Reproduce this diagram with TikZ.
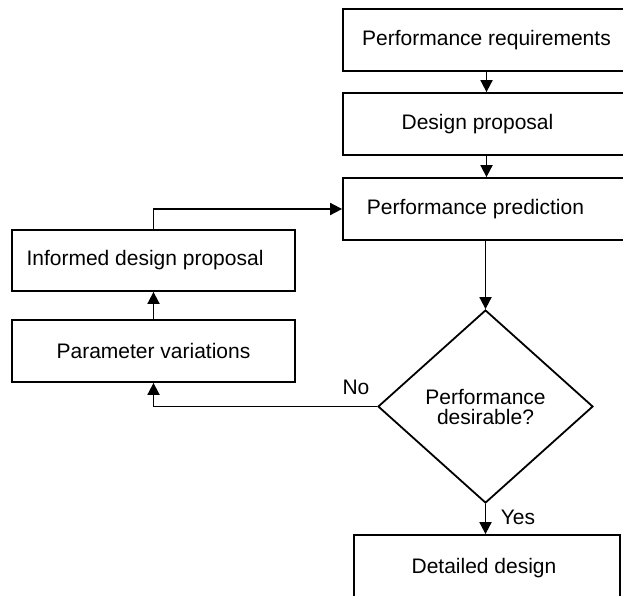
\documentclass[tikz,border=0pt]{standalone}
\usepackage{fontspec}
\setmainfont{Liberation Sans}
\usetikzlibrary{shapes.geometric,arrows.meta}
\begin{document}
\begin{tikzpicture}[x=1pt,y=-1pt,
  every node/.style={font=\fontsize{21}{22}\selectfont},
  box/.style={draw, line width=1.8pt, rectangle, inner sep=0pt},
  decide/.style={draw, line width=1.8pt, diamond, inner sep=0pt, align=center},
  conn/.style={line width=1.8pt, -{Triangle[length=12pt,width=12pt]}},
  lbl/.style={inner sep=0pt}]
\useasboundingbox (0,0) rectangle (623,595);
\clip (0,0) rectangle (623,595);
\node[box, minimum width=287pt, minimum height=62pt] (b1) at (486.5,40) {Performance requirements};
\node[box, minimum width=287pt, minimum height=62pt] (b2) at (486.5,124) {\hspace*{-18pt}Design proposal};
\node[box, minimum width=287pt, minimum height=62pt] (b3) at (486.5,209) {\hspace*{-22pt}Performance prediction};
\node[box, minimum width=283pt, minimum height=61pt] (inf) at (153.5,260.5) {\hspace*{-17pt}Informed design proposal};
\node[box, minimum width=283pt, minimum height=62pt] (par) at (153.5,351) {Parameter variations};
\node[decide, minimum width=215pt, minimum height=193pt] (d) at (485.5,406.5) {Performance\\[-2pt]desirable?};
\node[box, minimum width=266pt, minimum height=66pt] (dd) at (487,568) {\hspace*{-6pt}Detailed design};
\draw[conn] (b1.south) -- (b2.north);
\draw[conn] (b2.south) -- (b3.north);
\draw[conn] (d.north |- b3.south) -- (d.north);
\draw[conn] (d.south) -- (d.south |- dd.north);
\draw[conn] (par.north) -- (inf.south);
\draw[conn] (inf.north) |- (b3.west);
\draw[conn] (d.west) -| (par.south);
\node[lbl] (no) at (356,387) {No};
\node[lbl] (yes) at (518,517) {Yes};
\end{tikzpicture}
\end{document}
